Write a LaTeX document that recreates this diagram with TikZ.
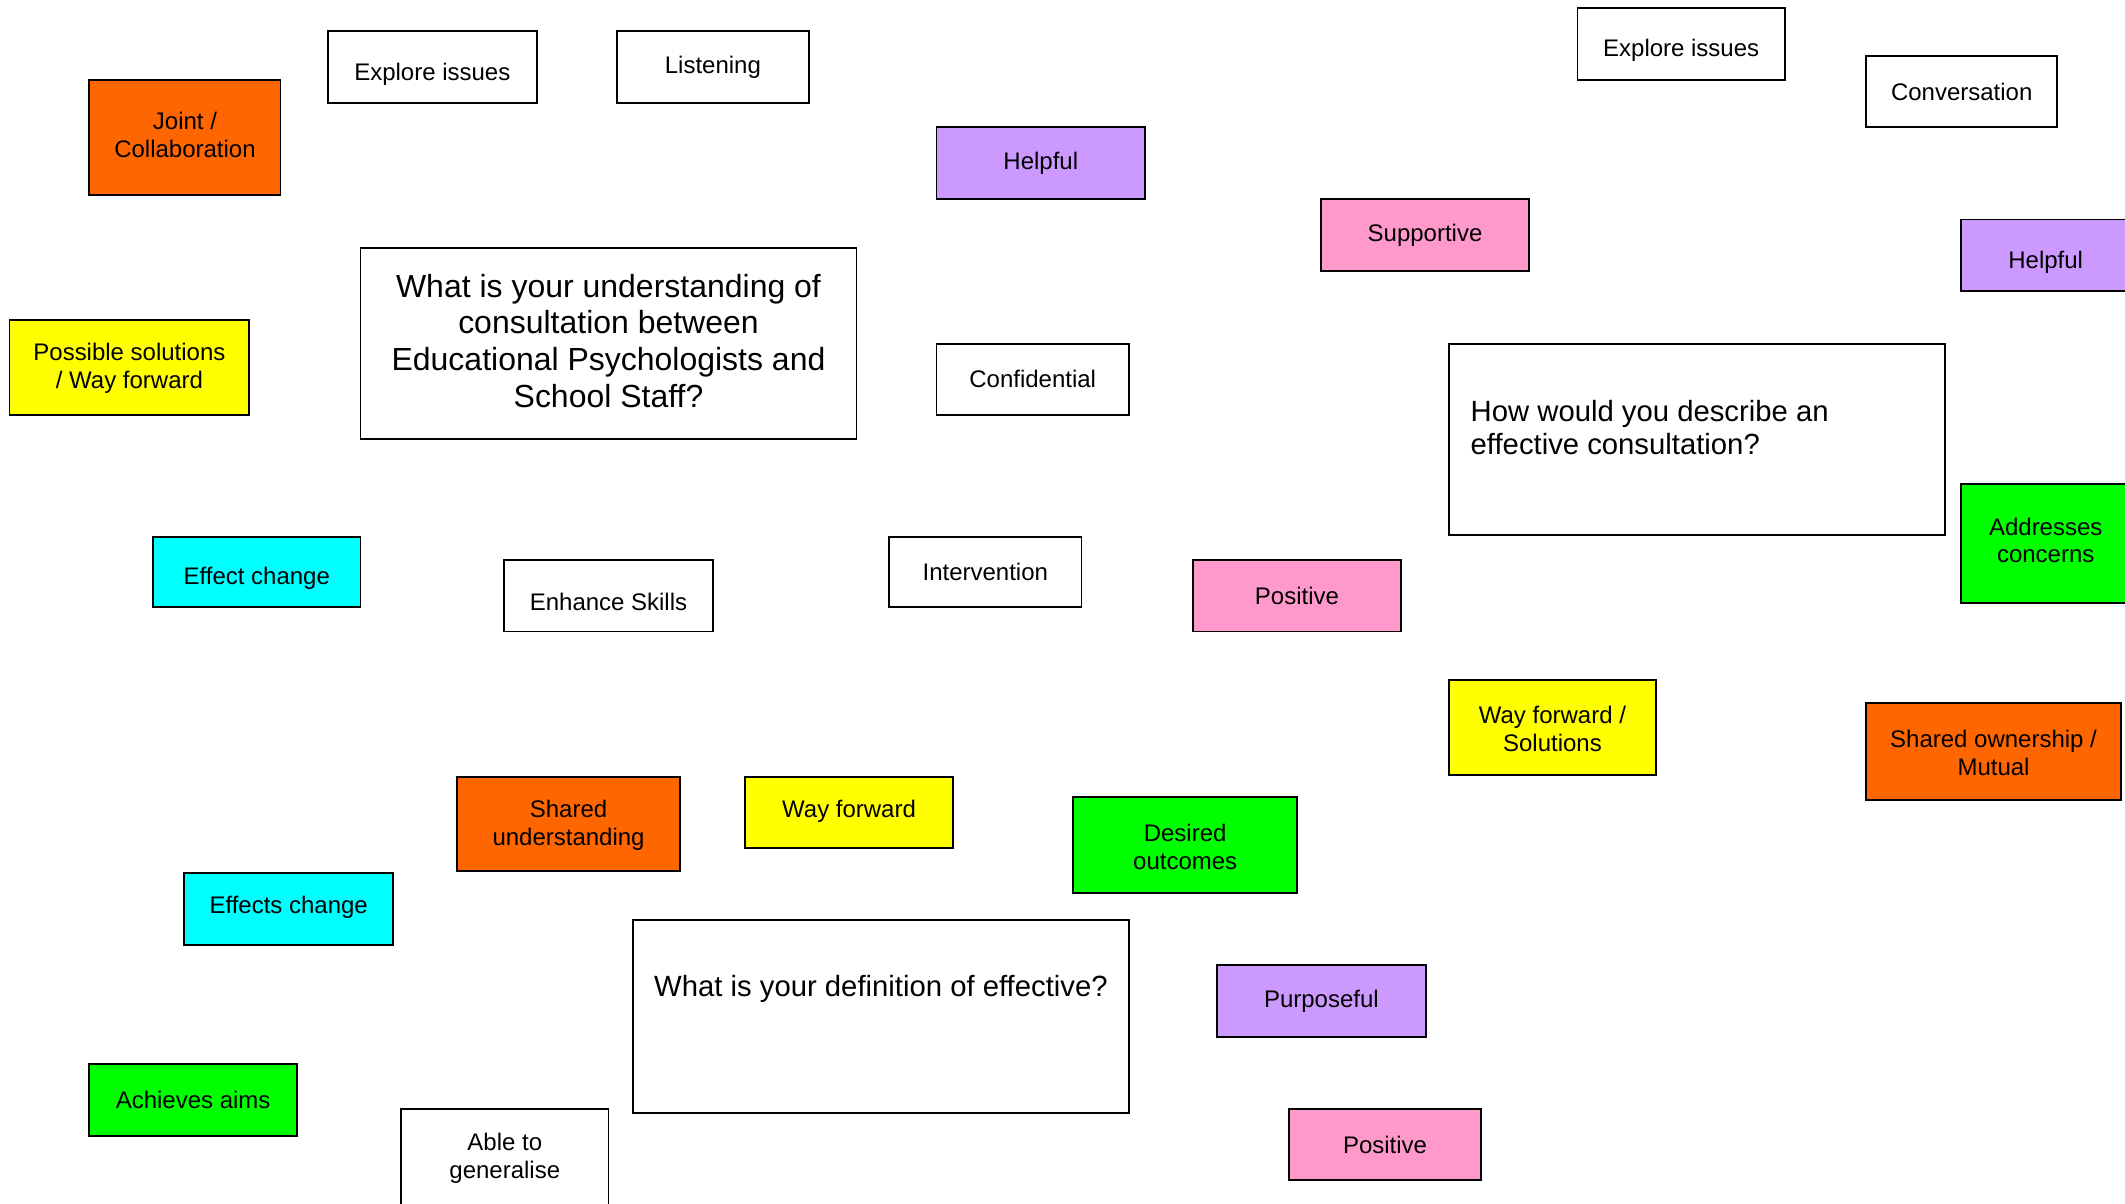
\documentclass[tikz,border=0pt]{standalone}
\usepackage{fontspec}
\setmainfont{Liberation Sans}
\definecolor{cOrange}{HTML}{FF6600}
\definecolor{cYellow}{HTML}{FFFF00}
\definecolor{cViolet}{HTML}{CC99FF}
\definecolor{cPink}{HTML}{FF99CC}
\definecolor{cGreen}{HTML}{00FF00}
\definecolor{cCyan}{HTML}{00FFFF}
\tikzset{
  card/.style={draw=black, line width=1.4pt, rectangle, inner sep=0pt, outer sep=0pt},
  cardtext/.style={inner sep=0pt, align=center, yshift=-1.8pt, font=\fontsize{17.7}{20.5}\selectfont},
  bigtext/.style={inner sep=0pt, font=\fontsize{23.6}{27}\selectfont},
  midtext/.style={inner sep=0pt, font=\fontsize{21.6}{25}\selectfont},
}
% \card{name}{fill}{x1}{y1}{x2}{y2}{text y}{text}
\newcommand\card[8]{%
  \node[card, fill=#2, minimum width={(#5-#3)*1pt}, minimum height={(#6-#4)*1pt}]
    (#1) at ({(#3+#5)/2},{(#4+#6)/2}) {};
  \node[cardtext] (#1-t) at ({(#3+#5)/2},{#7}) {#8};
}
\begin{document}
\begin{tikzpicture}[x=1pt,y=-1pt]
\useasboundingbox (0,0) rectangle (1568,888);
\clip (0,0) rectangle (1568,888);
\fill[white] (0,0) rectangle (1568,888);

% white cards
\card{explA}{white}{242}{23}{396}{76}{53}{Explore issues}
\card{listen}{white}{455}{23}{597}{76}{48}{Listening}
\card{explB}{white}{1164}{6}{1317}{59}{35}{Explore issues}
\card{convers}{white}{1377}{41}{1518}{94}{66}{Conversation}
\card{confid}{white}{691}{254}{833}{306}{278}{Confidential}
\card{enhance}{white}{372}{413}{526}{466}{442}{Enhance Skills}
\card{interv}{white}{656}{396}{798}{448}{420}{Intervention}
\card{general}{white}{296}{818}{449}{900}{853}{Able to\\generalise}

% coloured cards
\card{joint}{cOrange}{66}{59}{207}{144}{98}{Joint /\\Collaboration}
\card{helpA}{cViolet}{691}{94}{845}{147}{119}{Helpful}
\card{support}{cPink}{975}{147}{1128}{200}{172}{Supportive}
\card{helpB}{cViolet}{1447}{162}{1572}{215}{192}{Helpful}
\card{possible}{cYellow}{7}{236}{184}{306}{270}{Possible solutions\\/ Way forward}
\card{address}{cGreen}{1447}{357}{1572}{445}{397}{Addresses\\concerns}
\card{effect}{cCyan}{113}{396}{266}{448}{425}{Effect change}
\card{posA}{cPink}{880}{413}{1034}{466}{438}{Positive}
\card{wayfwdB}{cYellow}{1069}{502}{1222}{572}{536}{Way forward /\\Solutions}
\card{ownership}{cOrange}{1377}{519}{1565}{590}{554}{Shared ownership /\\Mutual}
\card{sharedu}{cOrange}{337}{573}{502}{643}{607}{Shared\\understanding}
\card{wayfwdA}{cYellow}{550}{573}{703}{626}{597}{Way forward}
\card{desired}{cGreen}{792}{588}{957}{659}{623}{Desired\\outcomes}
\card{effects}{cCyan}{136}{644}{290}{697}{668}{Effects change}
\card{purpose}{cViolet}{898}{712}{1052}{765}{737}{Purposeful}
\card{achieve}{cGreen}{66}{785}{219}{838}{810}{Achieves aims}
\card{posB}{cPink}{951}{818}{1093}{871}{843}{Positive}

% question cards
\node[card, fill=white, minimum width=366pt, minimum height=141pt] (qUnder) at (449,253.5) {};
\node[bigtext, align=center] (qUnder-t) at (449,251.5)
  {What is your understanding of\\consultation between\\Educational Psychologists and\\School Staff?};

\node[card, fill=white, minimum width=366pt, minimum height=141pt] (qEff) at (1252,324.5) {};
\node[midtext, align=left, anchor=west] (qEff-t) at (1085,315.5)
  {How would you describe an\\effective consultation?};

\node[card, fill=white, minimum width=366pt, minimum height=142pt] (qDef) at (650,750) {};
\node[midtext] (qDef-t) at (650,729.5) {What is your definition of effective?};
\end{tikzpicture}
\end{document}
